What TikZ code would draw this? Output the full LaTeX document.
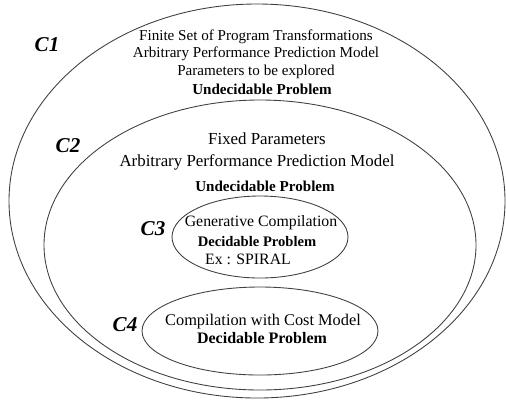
\documentclass[tikz,border=0pt]{standalone}
\usepackage{fontspec}
\setmainfont{Liberation Serif}
\begin{document}
\begin{tikzpicture}[x=0.02cm, y=-0.02cm,
    ring/.style={draw=black!75, line width=0.5pt},
    lbl/.style={font=\fontsize{12}{12}\selectfont\bfseries\itshape},
    txt/.style={font=\fontsize{8.6}{9}\selectfont, inner sep=0pt},
    txtb/.style={font=\fontsize{8.6}{9}\selectfont\bfseries, inner sep=0pt},
    big/.style={font=\fontsize{9.6}{10}\selectfont, inner sep=0pt}]
            \useasboundingbox (0,0) rectangle (506,400);

            % --- C1 (buiten) ---
            \draw[ring] (257,201) ellipse [x radius=248, y radius=197];
            \node[lbl] (c1) at (47,45) {C1};
            \node[txt] (t11) at (256,37) {Finite Set of Program Transformations};
            \node[txt] (t12) at (256,54) {Arbitrary Performance Prediction Model};
            \node[txt] (t13) at (256,72) {Parameters to be explored};
            \node[txtb] (t14) at (262,89) {Undecidable Problem};

            % --- C2 ---
            \draw[ring] (260,245) ellipse [x radius=216, y radius=145];
            \node[lbl] (c2) at (68,146) {C2};
            \node[big] (t21) at (267,139) {Fixed Parameters};
            \node[big] (t22) at (257,162) {Arbitrary Performance Prediction Model};
            \node[txtb] (t23) at (265,186) {Undecidable Problem};

            % --- C3 ---
            \draw[ring] (260,237) ellipse [x radius=88, y radius=41];
            \node[lbl] (c3) at (153,229) {C3};
            \node[big, font=\fontsize{9}{9}\selectfont] (t31) at (261,223) {Generative Compilation};
            \node[txtb, font=\fontsize{8.3}{9}\selectfont\bfseries] (t32) at (257,242) {Decidable Problem};
            \node[big, font=\fontsize{9}{9}\selectfont] (t33) at (248,259) {Ex : SPIRAL};

            % --- C4 ---
            \draw[ring] (260,331) ellipse [x radius=118, y radius=44];
            \node[lbl] (c4) at (125,325) {C4};
            \node[big, font=\fontsize{9.3}{9}\selectfont] (t41) at (263,322) {Compilation with Cost Model};
            \node[txtb, font=\fontsize{9.1}{9}\selectfont\bfseries] (t42) at (262,338) {Decidable Problem};
\end{tikzpicture}
\end{document}
